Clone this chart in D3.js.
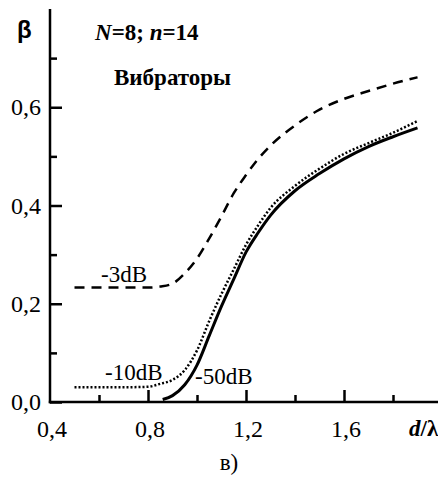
<!DOCTYPE html>
<html><head><meta charset="utf-8">
<script src="https://cdn.jsdelivr.net/npm/d3@7"></script>
<style>body{margin:0;background:#fff}svg{display:block}text{font-family:"Liberation Serif",serif}</style>
</head><body><svg id="c" width="438" height="477"></svg>
<script>
const xDash = [0.50,0.60,0.70,0.80,0.85,0.90,0.95,1.00,1.05,1.10,1.15,1.20,1.25,1.30,1.40,1.50,1.60,1.70,1.80,1.90];
const yDash = [0.233,0.233,0.233,0.233,0.235,0.241,0.262,0.292,0.333,0.378,0.425,0.462,0.495,0.522,0.563,0.595,0.617,0.633,0.648,0.661];
const xDot = [0.50,0.60,0.70,0.80,0.85,0.90,0.95,1.00,1.05,1.10,1.15,1.20,1.25,1.30,1.40,1.50,1.60,1.70,1.80,1.90];
const yDot = [0.030,0.030,0.030,0.031,0.037,0.045,0.065,0.105,0.165,0.220,0.270,0.320,0.360,0.395,0.440,0.475,0.505,0.527,0.548,0.572];
const xSolid = [0.86,0.90,0.95,1.00,1.05,1.10,1.15,1.20,1.25,1.30,1.40,1.50,1.60,1.70,1.80,1.90];
const ySolid = [0.005,0.013,0.035,0.075,0.135,0.195,0.250,0.305,0.345,0.380,0.430,0.465,0.495,0.520,0.540,0.558];
const xTickLabels = ["0,4","0,8","1,2","1,6"];
const xTickValues = [0.4,0.8,1.2,1.6];
const xMinorTicks = [0.6,1.0,1.4,1.8];
const yTickLabels = ["0,0","0,2","0,4","0,6"];
const yTickValues = [0.0,0.2,0.4,0.6];
const yMinorTicks = [0.1,0.3,0.5,0.7];
const seriesLabels = ["-3dB","-10dB","-50dB"];

const svg = d3.select("#c");
const x = d3.scaleLinear().domain([0.4, 2.0]).range([50, 442]);
const y = d3.scaleLinear().domain([0, 0.8]).range([402, 9]);
const serif = "Liberation Serif";

svg.append("line").attr("x1",x(0.4)).attr("x2",x(0.4)).attr("y1",y(0.8)).attr("y2",y(0)+1.2)
  .attr("stroke","#000").attr("stroke-width",2.5);
svg.append("line").attr("x1",x(0.4)-1.2).attr("x2",438).attr("y1",y(0)).attr("y2",y(0))
  .attr("stroke","#000").attr("stroke-width",2.5);

const yMajor = d3.axisRight(y).tickValues(yTickValues).tickSize(12).tickFormat("");
const yMin = d3.axisRight(y).tickValues(yMinorTicks).tickSize(7).tickFormat("");
[yMajor,yMin].forEach(a=>{
  const g = svg.append("g").attr("transform",`translate(${x(0.4)},0)`).call(a);
  g.select(".domain").remove();
  g.selectAll("line").attr("stroke","#000").attr("stroke-width",2.5);
});
const xMajor = d3.axisTop(x).tickValues(xTickValues.slice(1)).tickSize(12).tickFormat("");
const xMin = d3.axisTop(x).tickValues(xMinorTicks).tickSize(7).tickFormat("");
[xMajor,xMin].forEach(a=>{
  const g = svg.append("g").attr("transform",`translate(0,${y(0)})`).call(a);
  g.select(".domain").remove();
  g.selectAll("line").attr("stroke","#000").attr("stroke-width",2.5);
});

svg.selectAll(".yl").data(yTickValues).enter().append("text")
  .attr("x",41).attr("y",d=>y(d)+8).attr("text-anchor","end")
  .style("font-family",serif).style("font-size","24px").text((d,i)=>yTickLabels[i]);
svg.selectAll(".xl").data(xTickValues).enter().append("text")
  .attr("x",d=>x(d)+2).attr("y",437).attr("text-anchor","middle")
  .style("font-family",serif).style("font-size","24px").text((d,i)=>xTickLabels[i]);

const line = d3.line().x(d=>x(d[0])).y(d=>y(d[1])).curve(d3.curveMonotoneX);
svg.append("path").datum(xDash.map((v,i)=>[v,yDash[i]])).attr("d",line)
  .attr("fill","none").attr("stroke","#000").attr("stroke-width",2.5).attr("stroke-dasharray","10,7");
svg.append("path").datum(xDot.map((v,i)=>[v,yDot[i]])).attr("d",line)
  .attr("fill","none").attr("stroke","#000").attr("stroke-width",2.5).attr("stroke-dasharray","2,2");
svg.append("path").datum(xSolid.map((v,i)=>[v,ySolid[i]])).attr("d",line)
  .attr("fill","none").attr("stroke","#000").attr("stroke-width",3);

const lab = [[101,282],[105,380],[195,384]];
seriesLabels.forEach((t,i)=>svg.append("text").attr("x",lab[i][0]).attr("y",lab[i][1])
  .style("font-family",serif).style("font-size","23px").text(t));

svg.append("text").attr("x",17).attr("y",38).style("font-family","Liberation Sans")
  .style("font-weight","bold").style("font-size","24px").text("β");

const t1 = svg.append("text").attr("x",95).attr("y",40).style("font-family",serif)
  .style("font-weight","bold").style("font-size","23px");
t1.append("tspan").style("font-style","italic").text("N");
t1.append("tspan").text("=8; ");
t1.append("tspan").style("font-style","italic").text("n");
t1.append("tspan").text("=14");

svg.append("text").attr("x",114).attr("y",85).style("font-family",serif)
  .style("font-weight","bold").style("font-size","23px").text("Вибраторы");

const t2 = svg.append("text").attr("x",409).attr("y",436).style("font-family",serif)
  .style("font-weight","bold").style("font-size","23px");
t2.append("tspan").style("font-style","italic").text("d");
t2.append("tspan").text("/λ");

svg.append("text").attr("x",229).attr("y",470).attr("text-anchor","middle")
  .style("font-family",serif).style("font-size","23px").text("в)");
</script></body></html>
